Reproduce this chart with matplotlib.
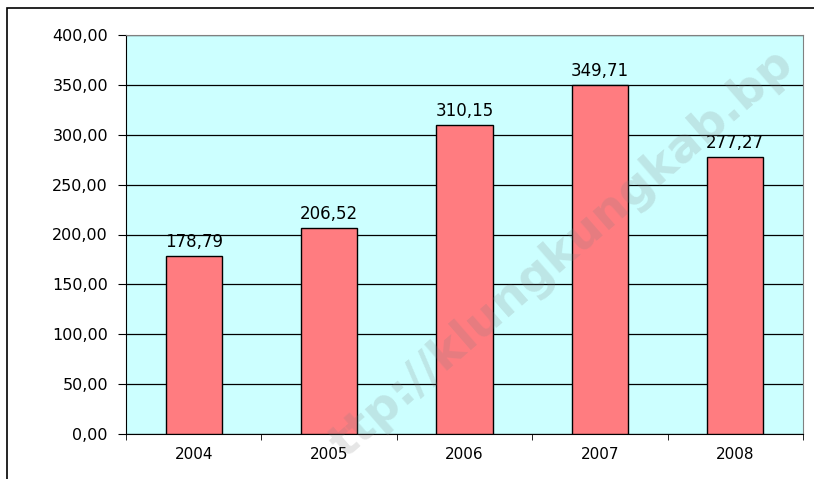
import matplotlib
matplotlib.use("Agg")
import matplotlib.pyplot as plt
from matplotlib.patches import Rectangle

years = ["2004", "2005", "2006", "2007", "2008"]
values = [178.79, 206.52, 310.15, 349.71, 277.27]
yticks = [0, 50, 100, 150, 200, 250, 300, 350, 400]


def fmt(v):
    return f"{v:,.2f}".replace(",", "X").replace(".", ",").replace("X", ".")


plt.rcParams["font.family"] = ["DejaVu Sans"]

fig = plt.figure(figsize=(8.14, 4.79), dpi=100)
# outer chart frame (cut off at right/bottom like the screenshot)
fig.patches.append(Rectangle((7 / 814, -0.1), 1.2, 1 - 8 / 479 + 0.1,
                             transform=fig.transFigure, fill=False,
                             edgecolor="black", linewidth=1.2))

ax = fig.add_axes([126 / 814, 1 - 434 / 479, (803 - 126) / 814, (434 - 35) / 479])
ax.set_facecolor("#CCFFFF")

x = range(len(years))
ax.bar(x, values, width=0.414, color="#FF7C80", edgecolor="black", linewidth=1, zorder=3)
for xi, v in zip(x, values):
    ax.annotate(fmt(v), (xi, v), xytext=(0, 6.5), textcoords="offset points",
                ha="center", va="baseline", fontsize=12, zorder=4)

ax.set_xlim(-0.5, len(years) - 0.5)
ax.set_ylim(0, 400)
ax.set_yticks(yticks)
ax.set_yticklabels([fmt(t) for t in yticks], fontsize=11.5)
ax.set_xticks(list(x))
ax.set_xticklabels(years, fontsize=11)
ax.tick_params(axis="x", length=0, pad=9.5)
ax.set_xticks([i + 0.5 for i in range(-1, len(years))], minor=True)
ax.tick_params(axis="x", which="minor", length=4, direction="out")
ax.tick_params(axis="y", length=6, direction="out", pad=7)
ax.yaxis.grid(True, color="black", linewidth=0.9, zorder=1)
ax.set_axisbelow(True)

for side in ["top", "right"]:
    ax.spines[side].set_color("#808080")
for side in ["left", "bottom"]:
    ax.spines[side].set_color("black")

# watermark (only the part visible in the screenshot)
fig.text(0.69, 0.47, "ttp://klungkungkab.bp", rotation=41, rotation_mode="anchor",
         fontsize=34, fontweight="bold", color="#808080", alpha=0.2,
         ha="center", va="center", zorder=10)

fig.savefig("out.png", dpi=100)
